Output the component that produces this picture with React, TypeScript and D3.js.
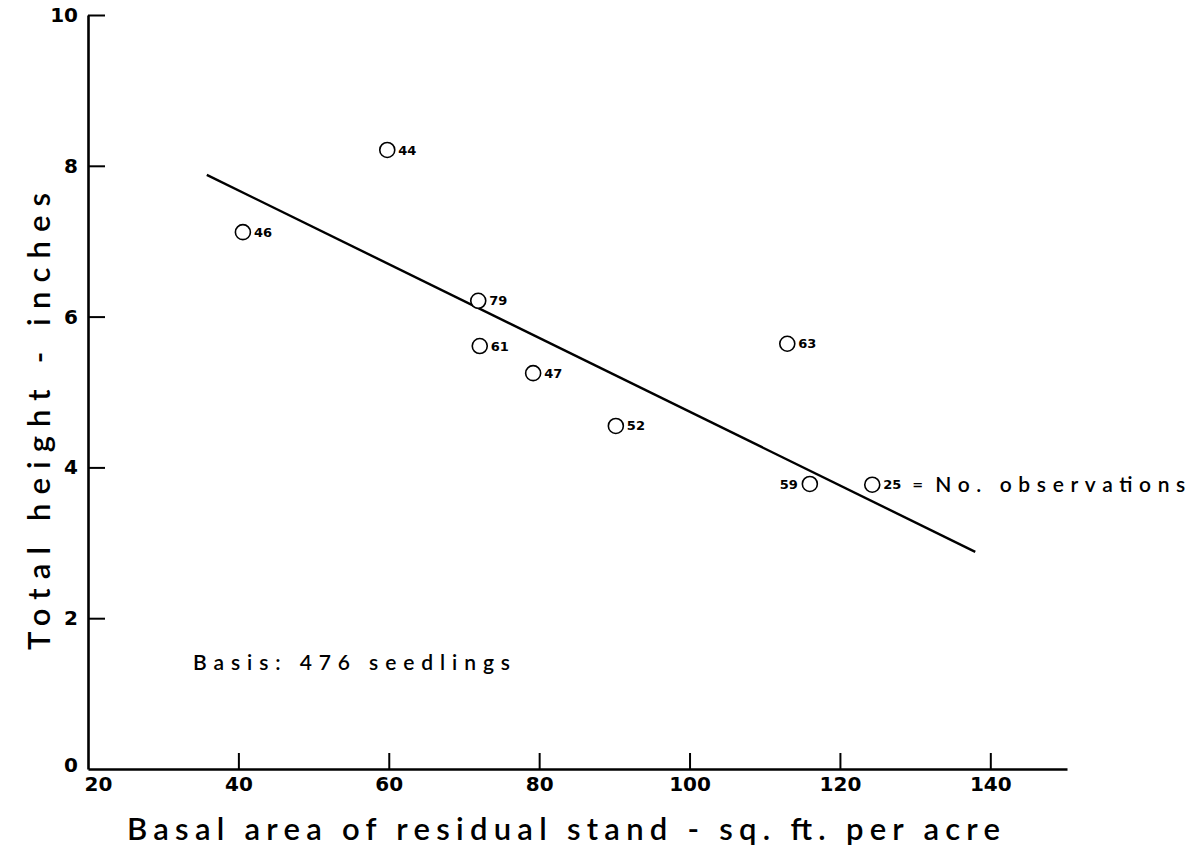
import React, { useRef, useEffect } from "react";
import * as d3 from "d3";

// values
const basalArea = [40.6, 59.8, 71.9, 72.1, 79.2, 90.2, 113.0, 116.0, 124.3];
const totalHeight = [7.12, 8.21, 6.21, 5.61, 5.25, 4.55, 5.64, 3.78, 3.77];
const nObs = ["46", "44", "79", "61", "47", "52", "63", "59", "25"];
const fitX = [35.8, 138.0];
const fitY = [7.88, 2.88];
const xTicks = [20, 40, 60, 80, 100, 120, 140];
const yTicks = [0, 2, 4, 6, 8, 10];

const W = 1192;
const H = 850;
const FONT = "Lato, 'Open Sans', sans-serif";
const NUMFONT = "'DejaVu Sans', sans-serif";

export default function App() {
  const ref = useRef<SVGSVGElement>(null);

  useEffect(() => {
    const svg = d3.select(ref.current);
    svg.selectAll("*").remove();

    const x = d3.scaleLinear().domain([20, 150.2]).range([88, 1067]);
    const y = d3.scaleLinear().domain([0, 10]).range([769, 15]);

    // x axis, ticks pointing up into the plot
    const xAxis = svg.append("g")
      .attr("transform", `translate(0, ${y(0)})`)
      .call(d3.axisBottom(x).tickValues(xTicks).tickSizeInner(-16).tickSizeOuter(0).tickPadding(8).tickFormat(d3.format("d")));
    xAxis.select(".domain").attr("stroke-width", 2.6);
    xAxis.selectAll(".tick line").attr("stroke-width", 2);
    xAxis.selectAll(".tick").filter((d) => d === 20).select("line").remove();
    xAxis.selectAll(".tick").filter((d) => d === 20).select("text").attr("dx", 10);
    xAxis.selectAll("text")
      .attr("font-family", NUMFONT).attr("font-size", 20).attr("font-weight", 700).attr("fill", "#000");

    // y axis, ticks pointing right
    const yAxis = svg.append("g")
      .attr("transform", `translate(${x(20)}, 0)`)
      .call(d3.axisLeft(y).tickValues(yTicks).tickSizeInner(-17).tickSizeOuter(0).tickPadding(10).tickFormat(d3.format("d")));
    yAxis.select(".domain").attr("stroke-width", 2.6);
    yAxis.selectAll(".tick line").attr("stroke-width", 2);
    yAxis.selectAll(".tick").filter((d) => d === 0).select("line").remove();
    yAxis.selectAll(".tick").filter((d) => d === 0).select("text").attr("dy", "0.1em");
    yAxis.selectAll("text")
      .attr("font-family", NUMFONT).attr("font-size", 20).attr("font-weight", 700).attr("fill", "#000");

    // fitted line
    const line = d3.line<number>().x((d) => x(d)).y((_, i) => y(fitY[i]));
    svg.append("path")
      .attr("d", line(fitX))
      .attr("fill", "none")
      .attr("stroke", "#000")
      .attr("stroke-width", 2.4);

    const pts = basalArea.map((b, i) => ({ b, h: totalHeight[i], n: nObs[i] }));

    svg.selectAll("circle.pt")
      .data(pts)
      .enter()
      .append("circle")
      .attr("class", "pt")
      .attr("cx", (d) => x(d.b))
      .attr("cy", (d) => y(d.h))
      .attr("r", 7.5)
      .attr("fill", "#fff")
      .attr("stroke", "#000")
      .attr("stroke-width", 1.6);

    svg.selectAll("text.lbl")
      .data(pts)
      .enter()
      .append("text")
      .attr("class", "lbl")
      .attr("x", (d) => x(d.b) + (d.n === "59" ? -12 : 11))
      .attr("y", (d) => y(d.h))
      .attr("dy", "0.35em")
      .attr("text-anchor", (d) => (d.n === "59" ? "end" : "start"))
      .attr("font-family", NUMFONT)
      .attr("font-size", 13)
      .attr("font-weight", 700)
      .text((d) => d.n);

    // legend for the numbers, next to the "25" point
    const last = pts[pts.length - 1];
    svg.append("text")
      .attr("x", x(last.b) + 40)
      .attr("y", y(last.h))
      .attr("dy", "0.35em")
      .attr("font-family", NUMFONT)
      .attr("font-size", 13)
      .attr("font-weight", 700)
      .text("=");
    svg.append("text")
      .attr("x", x(last.b) + 63)
      .attr("y", y(last.h))
      .attr("dy", "0.35em")
      .attr("font-family", FONT)
      .attr("font-size", 21)
      .attr("font-weight", 600)
      .attr("textLength", 250)
      .attr("lengthAdjust", "spacing")
      .text("No. observations");

    svg.append("text")
      .attr("x", 193)
      .attr("y", 670)
      .attr("font-family", FONT)
      .attr("font-size", 21)
      .attr("font-weight", 600)
      .attr("textLength", 317)
      .attr("lengthAdjust", "spacing")
      .text("Basis: 476 seedlings");

    // axis titles
    svg.append("text")
      .attr("x", 127)
      .attr("y", 840)
      .attr("font-family", FONT)
      .attr("font-size", 31)
      .attr("font-weight", 600)
      .attr("textLength", 873)
      .attr("lengthAdjust", "spacing")
      .text("Basal area of residual stand - sq. ft. per acre");

    svg.append("text")
      .attr("transform", "translate(50, 650) rotate(-90)")
      .attr("font-family", FONT)
      .attr("font-size", 31)
      .attr("font-weight", 600)
      .attr("textLength", 457)
      .attr("lengthAdjust", "spacing")
      .text("Total height - inches");
  }, []);

  return (
    <svg
      ref={ref}
      width={W}
      height={H}
      style={{ position: "absolute", left: 0, top: 0, background: "#fff" }}
    />
  );
}
